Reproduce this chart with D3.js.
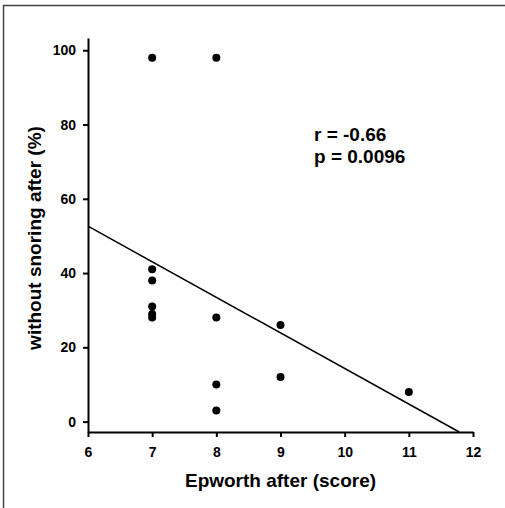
<!DOCTYPE html>
<html>
<head>
<meta charset="utf-8">
<script src="https://cdn.jsdelivr.net/npm/d3@7"></script>
<style>
  body { margin: 0; background: #fff; }
  svg text { font-family: "Liberation Sans", Arial, sans-serif; font-weight: bold; fill: #000; }
</style>
</head>
<body>
<div id="chart"></div>
<script>
// Dados: Epworth depois x sem ronco depois (%)
const epworth = [7, 8, 7, 7, 7, 7, 7, 8, 8, 8, 9, 9, 11];
const withoutSnoring = [98, 98, 41, 38, 31, 29, 28, 28, 10, 3, 26, 12, 8];
const xTicks = [6, 7, 8, 9, 10, 11, 12];
const yTicks = [0, 20, 40, 60, 80, 100];
// Reta de regressão (intercepto, inclinação)
const regression = [110.1, -9.58];
const stats = ["r = -0.66", "p = 0.0096"];

const width = 505, height = 508;
const margin = { top: 38, right: 32, bottom: 76, left: 88 };

const svg = d3.select("#chart").append("svg")
  .attr("width", width)
  .attr("height", height);

// Moldura (só topo e esquerda visíveis)
svg.append("path")
  .attr("d", `M3.5,${height} V5.5 H${width}`)
  .attr("fill", "none")
  .attr("stroke", "#444")
  .attr("stroke-width", 1.5);

const x = d3.scaleLinear().domain([6, 12]).range([margin.left, width - margin.right]);
const y = d3.scaleLinear().domain([-2.8, 103.3]).range([height - margin.bottom, margin.top]);

// Eixo X
const xAxis = svg.append("g")
  .attr("transform", `translate(0,${y(-2.8)})`)
  .call(d3.axisBottom(x).tickValues(xTicks).tickFormat(d3.format("d")).tickSize(5).tickSizeOuter(0));

// Eixo Y
const yAxis = svg.append("g")
  .attr("transform", `translate(${x(6)},0)`)
  .call(d3.axisLeft(y).tickValues(yTicks).tickSize(5).tickSizeOuter(0));

[xAxis, yAxis].forEach((g) => {
  g.select(".domain").attr("stroke", "#000").attr("stroke-width", 2);
  g.selectAll(".tick line").attr("stroke", "#000").attr("stroke-width", 2);
  g.selectAll(".tick text").attr("font-size", "14px").attr("font-family", null);
});
xAxis.selectAll(".tick text").attr("y", 25).attr("dy", null);
yAxis.selectAll(".tick text").attr("x", -12);

// Títulos dos eixos
svg.append("text")
  .attr("x", (x(6) + x(12)) / 2)
  .attr("y", 487)
  .attr("text-anchor", "middle")
  .attr("font-size", "19px")
  .text("Epworth after (score)");

svg.append("text")
  .attr("transform", `translate(41,238) rotate(-90)`)
  .attr("text-anchor", "middle")
  .attr("font-size", "19px")
  .text("without snoring after (%)");

// Reta de regressão, cortada no eixo X
const [b0, b1] = regression;
const xEnd = (y.domain()[0] - b0) / b1;
svg.append("line")
  .attr("x1", x(6)).attr("y1", y(b0 + b1 * 6))
  .attr("x2", x(xEnd)).attr("y2", y(b0 + b1 * xEnd))
  .attr("stroke", "#000")
  .attr("stroke-width", 1.5);

// Pontos
svg.selectAll("circle")
  .data(epworth)
  .enter()
  .append("circle")
  .attr("cx", (d) => x(d))
  .attr("cy", (d, i) => y(withoutSnoring[i]))
  .attr("r", 4)
  .attr("fill", "#000");

// Estatísticas
svg.append("g").selectAll("text")
  .data(stats)
  .enter()
  .append("text")
  .attr("x", 314)
  .attr("y", (d, i) => 141 + i * 22)
  .attr("font-size", "19px")
  .text((d) => d);
</script>
</body>
</html>
